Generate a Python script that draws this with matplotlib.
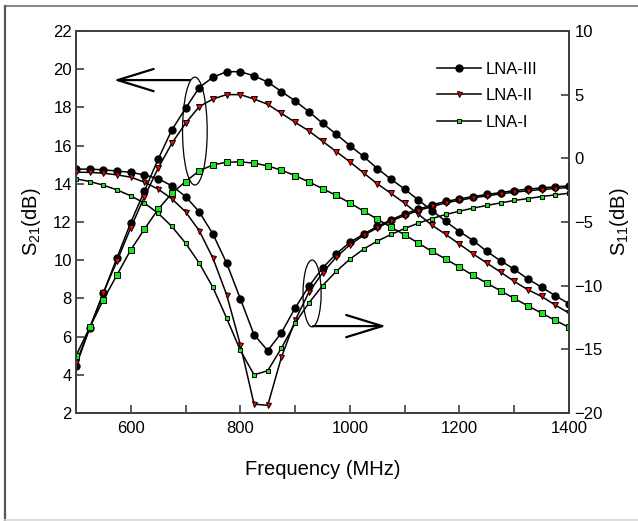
import matplotlib
matplotlib.use('Agg')
import matplotlib.pyplot as plt
from matplotlib.patches import Ellipse
from matplotlib.lines import Line2D

plt.rcParams['font.family'] = ['Liberation Sans', 'DejaVu Sans']
plt.rcParams['mathtext.fontset'] = 'custom'
plt.rcParams['mathtext.rm'] = 'Liberation Sans'
plt.rcParams['mathtext.it'] = 'Liberation Sans:italic'

# frequency grid (MHz)
freq = [500, 525, 550, 575, 600, 625, 650, 675, 700, 725, 750, 775, 800,
        825, 850, 875, 900, 925, 950, 975, 1000, 1025, 1050, 1075, 1100,
        1125, 1150, 1175, 1200, 1225, 1250, 1275, 1300, 1325, 1350, 1375, 1400]

# S21 (dB), left axis
s21_lna3 = [4.45, 6.45, 8.28, 10.14, 11.97, 13.63, 15.29, 16.82, 17.95, 19.04,
            19.58, 19.87, 19.87, 19.65, 19.33, 18.83, 18.34, 17.78, 17.17, 16.6,
            16.0, 15.43, 14.8, 14.24, 13.72, 13.15, 12.6, 12.03, 11.5, 11.03,
            10.46, 9.97, 9.53, 9.01, 8.59, 8.14, 7.72]
s21_lna2 = [4.6, 6.45, 8.3, 9.97, 11.7, 13.33, 14.82, 16.12, 17.17, 18.04,
            18.44, 18.67, 18.67, 18.44, 18.16, 17.69, 17.22, 16.77, 16.23, 15.69,
            15.15, 14.57, 14.0, 13.5, 12.98, 12.41, 11.83, 11.35, 10.84, 10.33,
            9.85, 9.38, 8.89, 8.45, 8.1, 7.65, 7.23]
s21_lna1 = [5.0, 6.48, 7.93, 9.24, 10.54, 11.63, 12.67, 13.5, 14.12, 14.68,
            14.99, 15.13, 15.15, 15.08, 14.94, 14.71, 14.43, 14.1, 13.75, 13.39,
            13.0, 12.57, 12.15, 11.73, 11.33, 10.89, 10.46, 10.06, 9.64, 9.2,
            8.8, 8.4, 8.0, 7.61, 7.23, 6.85, 6.48]

# S11 (dB), right axis
s11_lna3 = [-0.85, -0.85, -0.9, -1.0, -1.1, -1.3, -1.6, -2.16, -3.0, -4.2,
            -5.95, -8.23, -11.03, -13.85, -15.1, -13.7, -11.76, -10.06, -8.62, -7.5,
            -6.6, -5.95, -5.35, -4.83, -4.36, -4.0, -3.65, -3.39, -3.18, -3.0,
            -2.84, -2.69, -2.53, -2.42, -2.32, -2.24, -2.16]
s11_lna2 = [-1.09, -1.1, -1.17, -1.3, -1.48, -1.87, -2.42, -3.18, -4.2, -5.69,
            -7.84, -10.71, -14.64, -19.3, -19.4, -15.63, -12.73, -10.53, -9.0, -7.76,
            -6.79, -6.05, -5.46, -4.93, -4.49, -4.1, -3.78, -3.5, -3.29, -3.1,
            -2.95, -2.79, -2.66, -2.55, -2.45, -2.37, -2.29]
s11_lna1 = [-1.61, -1.82, -2.11, -2.48, -2.95, -3.52, -4.31, -5.35, -6.66, -8.23,
            -10.14, -12.55, -15.08, -17.0, -16.68, -14.9, -12.94, -11.37, -10.0, -8.88,
            -7.92, -7.13, -6.5, -5.98, -5.51, -5.09, -4.73, -4.41, -4.15, -3.91,
            -3.7, -3.5, -3.31, -3.16, -3.0, -2.87, -2.74]

labels = ['LNA-III', 'LNA-II', 'LNA-I']

green = '#19e619'
red = '#ff0000'
spine_col = '#404040'

fig = plt.figure(figsize=(6.38, 5.21), dpi=100)
ax = fig.add_axes([76 / 638, 1 - 413 / 521, 493 / 638, 382 / 521])
ax2 = ax.twinx()

lw = 1.1
mew = 0.7
# S21 curves
ax.plot(freq, s21_lna3, '-', color='k', lw=lw, marker='o', ms=5, mfc='k', mec='k')
ax.plot(freq, s21_lna2, '-', color='k', lw=lw, marker='v', ms=5, mfc=red, mec='k', mew=mew)
ax.plot(freq, s21_lna1, '-', color='k', lw=lw, marker='s', ms=4, mfc=green, mec='k', mew=mew)
# S11 curves
h3, = ax2.plot(freq, s11_lna3, '-', color='k', lw=lw, marker='o', ms=5, mfc='k', mec='k')
h2, = ax2.plot(freq, s11_lna2, '-', color='k', lw=lw, marker='v', ms=3.6, mfc=red, mec='k', mew=mew)
h1, = ax2.plot(freq, s11_lna1, '-', color='k', lw=lw, marker='s', ms=3.2, mfc=green, mec='k', mew=mew)

ax.set_xlim(500, 1400)
ax.set_ylim(2, 22)
ax2.set_ylim(-20, 10)
ax.set_xticks([600, 800, 1000, 1200, 1400])
ax.set_xticks([700, 900, 1100, 1300], minor=True)
ax.set_yticks(range(2, 23, 2))
ax2.set_yticks([-20, -15, -10, -5, 0, 5, 10])
ax2.set_yticklabels(['\u221220', '\u221215', '\u221210', '\u22125', '0', '5', '10'])

for a in (ax, ax2):
    for s in a.spines.values():
        s.set_color(spine_col)
        s.set_linewidth(1.3)
ax.tick_params(axis='both', which='both', direction='in', length=6, width=1.2,
               labelsize=12, color=spine_col)
ax.tick_params(axis='x', pad=6)
ax.tick_params(axis='y', pad=3)
ax2.tick_params(axis='y', direction='in', length=6, width=1.2, labelsize=12,
                color=spine_col, pad=4)

ax.set_xlabel('Frequency (MHz)', fontsize=14.5, labelpad=17)
ax.set_ylabel('S$_{21}$(dB)', fontsize=14.5, labelpad=7)
ax2.set_ylabel('S$_{11}$(dB)', fontsize=14.5, labelpad=4)

# annotations: ellipses and arrows
ax.add_patch(Ellipse((717, 16.76), 45, 5.65, fill=False, lw=0.9, color='k'))
ax.add_patch(Ellipse((931, 8.26), 33, 3.5, fill=False, lw=0.9, color='k'))
ax.annotate('', xy=(569, 19.43), xytext=(708, 19.43),
            arrowprops=dict(arrowstyle='->,head_length=1.3,head_width=0.4',
                            lw=1.6, color='k', mutation_scale=20,
                            shrinkA=0, shrinkB=0))
ax.annotate('', xy=(1066, 6.55), xytext=(933, 6.55),
            arrowprops=dict(arrowstyle='->,head_length=1.3,head_width=0.4',
                            lw=1.6, color='k', mutation_scale=20,
                            shrinkA=0, shrinkB=0))

ax2.legend([h3, h2, h1], labels, loc='upper left',
           bbox_to_anchor=(437 / 638, 1 - 62 / 521), bbox_transform=fig.transFigure,
           frameon=False, fontsize=12, handlelength=2.65, handletextpad=0.25,
           borderpad=0, borderaxespad=0, labelspacing=0.68)

# outer frame
fig.add_artist(Line2D([4.5 / 638, 4.5 / 638], [1 / 521, 1 - 6 / 521],
                      transform=fig.transFigure, color='#555555', lw=1.6))
fig.add_artist(Line2D([4.5 / 638, 1], [1 - 6 / 521, 1 - 6 / 521],
                      transform=fig.transFigure, color='#666666', lw=1.1))
fig.add_artist(Line2D([4.5 / 638, 1], [1 / 521, 1 / 521],
                      transform=fig.transFigure, color='#d8d8d8', lw=1.2))

fig.savefig('out.png', dpi=100)
